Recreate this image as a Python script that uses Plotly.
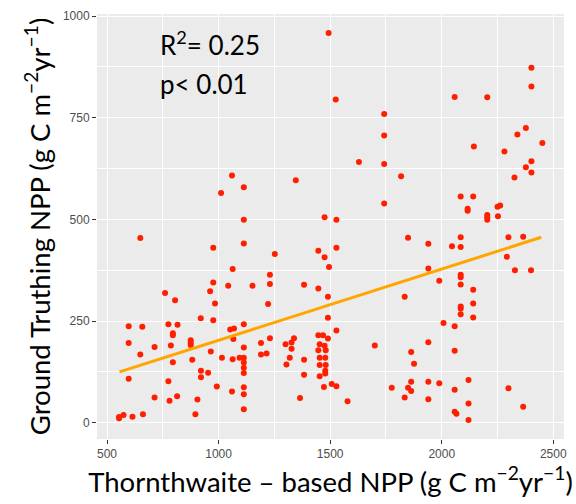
import plotly.graph_objects as go

npp_thornthwaite = [
    1493, 1525, 1060, 1113, 1011, 1346, 1113, 1475, 1528,
    1742, 1742, 1629, 1742, 1818, 1742, 2058, 2204, 2402, 2402, 2377,
    2339, 2451, 2144, 2281, 2402, 2377, 2402, 2326, 2085, 2141, 2116,
    2116, 2250, 2262, 2204, 2204, 2252, 2204,
    649, 1113, 976, 1252, 1063, 1230, 1230, 760, 976, 962, 1043, 1152,
    805, 984, 1222, 1383, 1447, 1490, 1447, 1475, 1495, 1528,
    597, 658, 775, 816, 920, 976, 1052, 1069, 1113, 1066, 597, 795, 795,
    649, 713, 786, 875, 875, 875, 965, 882, 795, 1015, 1063, 1094, 1113,
    1113, 1113, 1113, 1113, 1190, 1190, 1215, 1230, 1300, 1327, 1338,
    1327, 1319, 1304, 1383, 1383, 1447, 1468, 1490, 1453, 1475, 1480,
    1447, 1453, 1478, 1453, 1480, 1478, 1478, 1453, 1528, 1507, 1528,
    1472, 597, 775, 921, 921, 953, 992, 1060, 1113, 1113, 1113, 713,
    780, 814, 905, 896, 1365, 554, 554, 574, 614, 661, 1490,
    1849, 1940, 2046, 2085, 2085, 2299, 2365, 2292, 2328, 2400, 1940,
    1989, 2085, 2085, 2085, 2141, 1834, 2085, 2085, 2085, 2141, 2141,
    2008, 2058, 1700, 1863, 1876, 1940, 2058, 1578, 1776, 1849, 1863,
    1863, 1834, 1940, 1940, 1989, 2058, 2120, 2120, 2058, 2066, 2120,
    2299, 2365,
]
npp_ground_truth = [
    958, 795, 608, 579, 565, 596, 499, 505, 499,
    759, 706, 641, 636, 606, 539, 801, 800, 873, 827, 725,
    709, 688, 679, 667, 643, 628, 615, 603, 556, 556, 526,
    521, 531, 534, 511, 505, 508, 499,
    454, 441, 430, 415, 378, 364, 341, 319, 345, 323, 337, 337,
    301, 293, 292, 339, 330, 310, 423, 407, 383, 430,
    237, 236, 242, 241, 257, 252, 229, 232, 242, 206, 196, 220, 215,
    168, 186, 190, 203, 196, 191, 175, 155, 149, 160, 156, 160, 160,
    185, 148, 135, 122, 196, 168, 170, 208, 193, 197, 208,
    182, 160, 143, 155, 118, 215, 215, 207, 193, 189, 178,
    178, 160, 160, 142, 142, 128, 121, 114, 227, 95, 90,
    88, 108, 102, 128, 112, 123, 89, 77, 87, 70, 33, 62,
    54, 65, 57, 21, 61, 11, 14, 19, 15, 21, 258,
    455, 440, 434, 456, 432, 456, 457, 408, 375, 375, 379,
    349, 364, 358, 340, 327, 310, 286, 281, 267, 293, 259,
    245, 237, 190, 174, 145, 198, 177, 53, 86, 86, 101,
    78, 62, 101, 58, 97, 81, 105, 47, 27, 22, 7,
    85, 39,
]

fit_x = [556, 2446]
fit_y = [125, 456]

x_ticks = [500, 1000, 1500, 2000, 2500]
y_ticks = [0, 250, 500, 750, 1000]

fig = go.Figure()
fig.add_trace(go.Scatter(
    x=npp_thornthwaite, y=npp_ground_truth, mode="markers",
    marker=dict(color="#ff1f00", size=6, line=dict(width=0)),
    showlegend=False, hoverinfo="x+y",
))
fig.add_trace(go.Scatter(
    x=fit_x, y=fit_y, mode="lines",
    line=dict(color="#ffa500", width=3),
    showlegend=False,
))

title_font = dict(family="Lato, Liberation Sans, Arial", size=27.5, color="black")
tick_font = dict(family="Liberation Sans, Arial", size=12, color="#4d4d4d")

fig.update_layout(
    width=576, height=504,
    margin=dict(l=97, r=11, t=9, b=65),
    paper_bgcolor="white",
    plot_bgcolor="#ebebeb",
    xaxis=dict(
        range=[455, 2548], tickvals=x_ticks, ticktext=[str(v) for v in x_ticks],
        showgrid=True, gridcolor="white", gridwidth=1.2, zeroline=False,
        ticks="outside", ticklen=4, tickcolor="#333333", tickwidth=1,
        tickfont=tick_font,
        minor=dict(tickvals=[750, 1250, 1750, 2250], showgrid=True,
                   gridcolor="white", gridwidth=0.6, ticks=""),
        title=dict(text="Thornthwaite – based NPP (g C m<sup>−2</sup>yr<sup>−1</sup>)",
                   font=title_font, standoff=6),
        showline=False,
    ),
    yaxis=dict(
        range=[-40, 1005], tickvals=y_ticks, ticktext=[str(v) for v in y_ticks],
        showgrid=True, gridcolor="white", gridwidth=1.2, zeroline=False,
        ticks="outside", ticklen=4, tickcolor="#333333", tickwidth=1,
        tickfont=tick_font,
        minor=dict(tickvals=[125, 375, 625, 875], showgrid=True,
                   gridcolor="white", gridwidth=0.6, ticks=""),
        title=dict(text="Ground Truthing NPP (g C m<sup>−2</sup>yr<sup>−1</sup>)",
                   font=title_font, standoff=4),
        showline=False,
    ),
    annotations=[
        dict(x=0.13, y=0.93, xref="paper", yref="paper", xanchor="left", yanchor="middle",
             text="R<sup>2</sup>= 0.25", showarrow=False,
             font=dict(family="Lato, Liberation Sans, Arial", size=26, color="black")),
        dict(x=0.13, y=0.835, xref="paper", yref="paper", xanchor="left", yanchor="middle",
             text="p< 0.01", showarrow=False,
             font=dict(family="Lato, Liberation Sans, Arial", size=26, color="black")),
    ],
)

fig.write_html("out.html")
